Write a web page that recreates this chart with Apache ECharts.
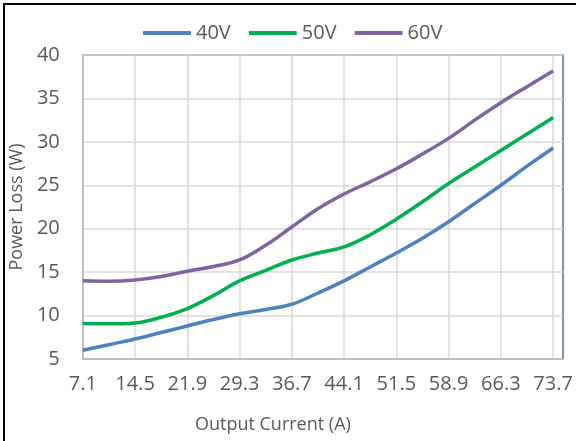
<!DOCTYPE html>
<html>
<head>
<meta charset="utf-8">
<script src="https://cdn.jsdelivr.net/npm/echarts@6/dist/echarts.min.js"></script>
<style>
html,body{margin:0;padding:0;background:#fff;}
#c{width:576px;height:441px;}
</style>
</head>
<body>
<div id="c"></div>
<script>
var tickLabels = [7.1, 14.5, 21.9, 29.3, 36.7, 44.1, 51.5, 58.9, 66.3, 73.7];
var currents = [7.1, 10.8, 14.5, 18.2, 21.9, 25.6, 29.3, 33.0, 36.7, 40.4, 44.1, 47.8, 51.5, 55.2, 58.9, 62.6, 66.3, 70.0, 73.7];
var loss40 = [6.0, 6.65, 7.3, 8.05, 8.8, 9.55, 10.2, 10.7, 11.3, 12.6, 14.0, 15.6, 17.2, 18.9, 20.8, 22.9, 25.0, 27.2, 29.3];
var loss50 = [9.1, 9.05, 9.15, 9.8, 10.8, 12.3, 14.0, 15.2, 16.4, 17.2, 17.9, 19.3, 21.1, 23.1, 25.2, 27.1, 29.0, 30.9, 32.8];
var loss60 = [14.0, 13.95, 14.1, 14.5, 15.1, 15.65, 16.4, 18.1, 20.2, 22.3, 24.0, 25.4, 26.9, 28.6, 30.4, 32.5, 34.5, 36.35, 38.15];
var seriesNames = ['40V', '50V', '60V'];
var colors = ['#4F81BD', '#00B050', '#8064A2'];

function pairs(vals) { return currents.map(function (c, i) { return [c, vals[i]]; }); }

var font = 'Open Sans';
var chart = echarts.init(document.getElementById('c'));
var allVals = [loss40, loss50, loss60];
chart.setOption({
  animation: false,
  textStyle: { fontFamily: font },
  graphic: [
    { type: 'rect', shape: { x: 3, y: 3, width: 576, height: 2 }, style: { fill: '#000' } },
    { type: 'rect', shape: { x: 3, y: 3, width: 2, height: 441 }, style: { fill: '#000' } }
  ],
  legend: {
    top: 18, left: 138, itemWidth: 48, itemHeight: 4, itemGap: 18, icon: 'roundRect',
    textStyle: { fontSize: 20, color: '#595959', fontFamily: font },
    data: seriesNames
  },
  grid: {
    left: 80, top: 55, right: 13, bottom: 82,
    show: true, borderColor: '#41719C', borderWidth: 1.5, backgroundColor: 'transparent'
  },
  xAxis: {
    type: 'value', min: 7.1, max: 75.1,
    name: 'Output Current (A)', nameLocation: 'middle', nameGap: 57,
    nameTextStyle: { fontSize: 18, color: '#595959', fontFamily: font, padding: [0, 100, 0, 0] },
    axisLine: { show: true, lineStyle: { color: '#BFBFBF', width: 2 } },
    axisTick: { show: false, customValues: tickLabels },
    axisLabel: { customValues: tickLabels, fontSize: 20, color: '#595959', margin: 15,
      formatter: function (v) { return v.toFixed(1); } },
    splitLine: { show: true, lineStyle: { color: '#D9D9D9', width: 1.5 } }
  },
  yAxis: {
    type: 'value', min: 5, max: 40, interval: 5,
    name: 'Power Loss (W)', nameLocation: 'middle', nameGap: 54,
    nameTextStyle: { fontSize: 18, color: '#595959', fontFamily: font },
    axisLine: { show: true, lineStyle: { color: '#BFBFBF', width: 2 } },
    axisTick: { show: false },
    axisLabel: { fontSize: 20, color: '#595959', margin: 23 },
    splitLine: { show: true, lineStyle: { color: '#D9D9D9', width: 1.5 } }
  },
  series: seriesNames.map(function (n, i) {
    return {
      name: n, type: 'line', smooth: 0.4, symbol: 'none', showSymbol: false,
      color: colors[i], lineStyle: { width: 3.5, color: colors[i] },
      data: pairs(allVals[i])
    };
  })
});
</script>
</body>
</html>
